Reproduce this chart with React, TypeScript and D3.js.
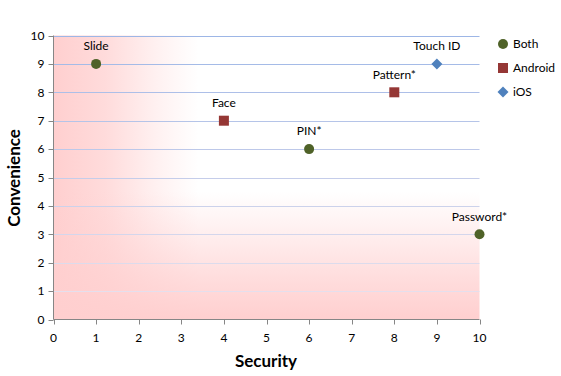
import React from "react";
import * as d3 from "d3";

const seriesNames = ["Both", "Android", "iOS"];
const seriesColors = ["#4f6228", "#953735", "#4f81bd"];
const bothPoints = [
  { label: "Slide", x: 1, y: 9 },
  { label: "PIN*", x: 6, y: 6 },
  { label: "Password*", x: 10, y: 3 },
];
const androidPoints = [
  { label: "Face", x: 4, y: 7 },
  { label: "Pattern*", x: 8, y: 8 },
];
const iosPoints = [{ label: "Touch ID", x: 9, y: 9 }];
const xTicks = [0, 1, 2, 3, 4, 5, 6, 7, 8, 9, 10];
const yTicks = [0, 1, 2, 3, 4, 5, 6, 7, 8, 9, 10];

const W = 561;
const H = 376;
const L = 53.5, R = 479.5, T = 35.5, B = 319.5;
const FONT = "Lato, 'Open Sans', sans-serif";
const PINK = "#ffcfcf";

export default function App() {
  const x = d3.scaleLinear().domain([0, 10]).range([L, R]);
  const y = d3.scaleLinear().domain([0, 10]).range([B, T]);
  const gridColor = d3.scaleLinear<string>().domain([0, 10]).range(["#ece4ee", "#9db6e6"]);
  const series = [bothPoints, androidPoints, iosPoints];

  const marker = (si: number, cx: number, cy: number, key: string) => {
    const c = seriesColors[si];
    if (si === 0) return <circle key={key} cx={cx} cy={cy} r={5} fill={c} />;
    if (si === 1) return <rect key={key} x={cx - 5} y={cy - 5} width={10} height={10} fill={c} />;
    return <path key={key} d={`M${cx},${cy - 5.5}L${cx + 5.5},${cy}L${cx},${cy + 5.5}L${cx - 5.5},${cy}Z`} fill={c} />;
  };

  return (
    <svg width={W} height={H} style={{ position: "absolute", left: 0, top: 0, background: "#fff" }}>
      <defs>
        <linearGradient id="gh" x1="0" y1="0" x2="1" y2="0">
          <stop offset="0" stopColor={PINK} stopOpacity={1} />
          <stop offset="0.12" stopColor={PINK} stopOpacity={0.75} />
          <stop offset="0.24" stopColor={PINK} stopOpacity={0.3} />
          <stop offset="0.34" stopColor={PINK} stopOpacity={0} />
        </linearGradient>
        <linearGradient id="gv" x1="0" y1="1" x2="0" y2="0">
          <stop offset="0" stopColor={PINK} stopOpacity={1} />
          <stop offset="0.15" stopColor={PINK} stopOpacity={0.7} />
          <stop offset="0.32" stopColor={PINK} stopOpacity={0.3} />
          <stop offset="0.45" stopColor={PINK} stopOpacity={0} />
        </linearGradient>
      </defs>
      <rect x={L} y={T} width={R - L} height={B - T} fill="#fff" />
      <rect x={L} y={T} width={R - L} height={B - T} fill="url(#gh)" />
      <rect x={L} y={T} width={R - L} height={B - T} fill="url(#gv)" />
      {yTicks.filter(v => v > 0).map(v => (
        <line key={"g" + v} x1={L} x2={R} y1={Math.round(y(v)) + 0.5} y2={Math.round(y(v)) + 0.5} stroke={gridColor(v)} strokeWidth={1} />
      ))}
      <line x1={L} x2={L} y1={T} y2={B} stroke="#868686" />
      <line x1={L} x2={R} y1={B} y2={B} stroke="#868686" />
      {yTicks.map(v => (
        <g key={"yt" + v}>
          <line x1={L - 5} x2={L} y1={Math.round(y(v)) + 0.5} y2={Math.round(y(v)) + 0.5} stroke="#868686" />
          <text x={L - 9} y={y(v)} dy="0.35em" textAnchor="end" fontSize={12} fontFamily={FONT} fill="#000">{v}</text>
        </g>
      ))}
      {xTicks.map(v => (
        <g key={"xt" + v}>
          <line x1={Math.round(x(v)) + 0.5} x2={Math.round(x(v)) + 0.5} y1={B} y2={B + 5} stroke="#868686" />
          <text x={x(v)} y={B + 18} dy="0.35em" textAnchor="middle" fontSize={12} fontFamily={FONT} fill="#000">{v}</text>
        </g>
      ))}
      <text x={266} y={361} dy="0.35em" textAnchor="middle" fontSize={17} fontWeight="bold" fontFamily={FONT}>Security</text>
      <text transform={`translate(14,${178}) rotate(-90)`} dy="0.35em" textAnchor="middle" fontSize={17} fontWeight="bold" fontFamily={FONT}>Convenience</text>
      {series.map((pts, si) =>
        pts.map((p, i) => (
          <g key={`p${si}-${i}`}>
            {marker(si, x(p.x), y(p.y), "m")}
            <text x={x(p.x)} y={y(p.y) - 18} dy="0.35em" textAnchor="middle" fontSize={12} fontFamily={FONT} fill="#000">{p.label}</text>
          </g>
        ))
      )}
      {seriesNames.map((n, i) => (
        <g key={"lg" + i}>
          {marker(i, 503, 44 + i * 24, "lm")}
          <text x={513} y={44 + i * 24} dy="0.35em" fontSize={12} fontFamily={FONT}>{n}</text>
        </g>
      ))}
    </svg>
  );
}
